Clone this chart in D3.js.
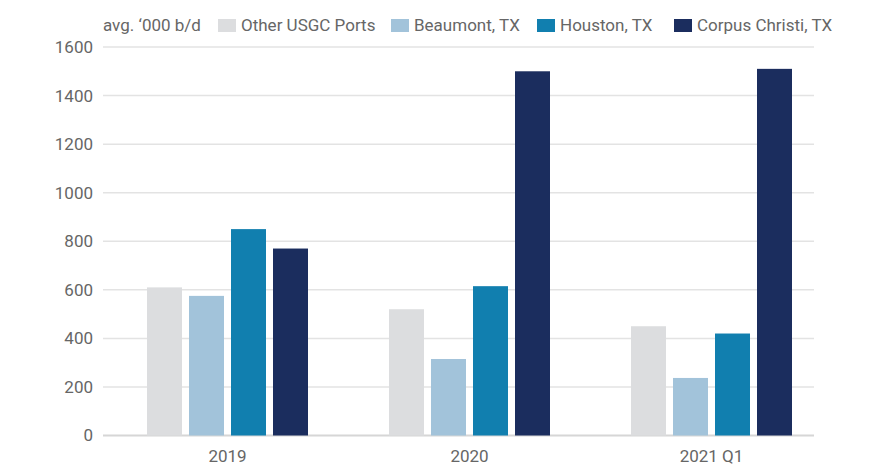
<!DOCTYPE html>
<html>
<head>
<meta charset="utf-8">
<script src="https://cdn.jsdelivr.net/npm/d3@7"></script>
<style>
  body { margin: 0; background: #fff; }
  svg text { font-family: Roboto, "Noto Sans", sans-serif; fill: #666; }
</style>
</head>
<body>
<script>
const years = ["2019", "2020", "2021 Q1"]
const series = ["Other USGC Ports", "Beaumont, TX", "Houston, TX", "Corpus Christi, TX"]
const other_usgc = [610, 520, 450]
const beaumont = [575, 315, 237]
const houston = [850, 615, 420]
const corpus = [770, 1500, 1510]
const y_ticks = [0, 200, 400, 600, 800, 1000, 1200, 1400, 1600]
const unit_label = "avg. \u2018000 b/d"

const colors = ["#dcdddf", "#a2c3da", "#117faf", "#1b2d5e"]
const values = [other_usgc, beaumont, houston, corpus]

const svg = d3.select("body").append("svg")
    .attr("width", 892)
    .attr("height", 467)

const scale_y = d3.scaleLinear().domain([0, 1600]).range([435.5, 47])
const scale_x = d3.scaleBand().domain(years).range([107, 833])
const scale_s = d3.scaleBand().domain(series).range([40, 201]).paddingInner(1 / 6)

// grid
svg.append("g")
    .selectAll("line")
    .data(y_ticks)
    .join("line")
    .attr("x1", 103)
    .attr("x2", 814)
    .attr("y1", (d) => scale_y(d))
    .attr("y2", (d) => scale_y(d))
    .attr("stroke", (d) => d === 0 ? "#d6d6d6" : "#e3e3e3")
    .attr("stroke-width", (d) => d === 0 ? 2 : 1.5)

// y labels
svg.append("g")
    .selectAll("text")
    .data(y_ticks)
    .join("text")
    .attr("x", 93)
    .attr("y", (d) => scale_y(d))
    .attr("dy", "0.35em")
    .attr("text-anchor", "end")
    .attr("font-size", 17)
    .text((d) => d)

// bars
const groups = svg.append("g")
    .selectAll("g")
    .data(years)
    .join("g")
    .attr("transform", (d) => `translate(${scale_x(d)},0)`)

groups.selectAll("rect")
    .data((d, i) => series.map((s, j) => ({ s, j, v: values[j][i] })))
    .join("rect")
    .attr("x", (d) => scale_s(d.s))
    .attr("width", scale_s.bandwidth())
    .attr("y", (d) => scale_y(d.v))
    .attr("height", (d) => scale_y(0) - scale_y(d.v))
    .attr("fill", (d) => colors[d.j])

// x labels
svg.append("g")
    .selectAll("text")
    .data(years)
    .join("text")
    .attr("x", (d) => scale_x(d) + scale_s.range()[0] + (scale_s.range()[1] - scale_s.range()[0]) / 2)
    .attr("y", 462)
    .attr("text-anchor", "middle")
    .attr("font-size", 17)
    .text((d) => d)

// legend
const legend = svg.append("g")
legend.append("text")
    .attr("x", 103)
    .attr("y", 31)
    .attr("font-size", 17)
    .text(unit_label)

const legend_x = [218, 391, 537, 674]
const items = legend.selectAll("g.item")
    .data(series)
    .join("g")
    .attr("class", "item")
    .attr("transform", (d, i) => `translate(${legend_x[i]},0)`)
items.append("rect")
    .attr("y", 19)
    .attr("width", 18)
    .attr("height", 13)
    .attr("fill", (d, i) => colors[i])
items.append("text")
    .attr("x", 23)
    .attr("y", 31)
    .attr("font-size", 17)
    .text((d) => d)
</script>
</body>
</html>
